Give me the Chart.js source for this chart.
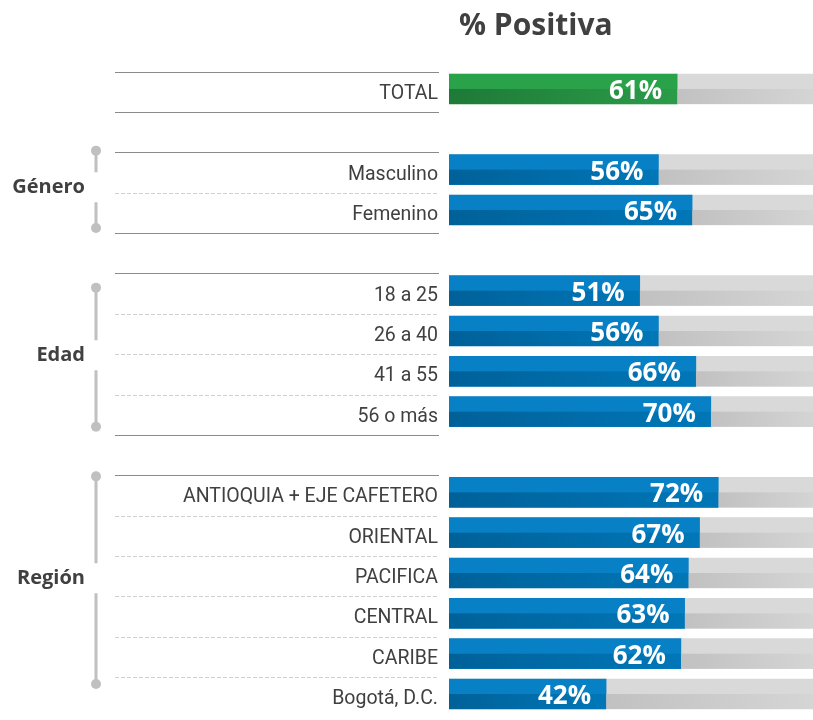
<!DOCTYPE html>
<html>
<head>
<meta charset="utf-8">
<script src="https://cdn.jsdelivr.net/npm/chart.js@4"></script>
<style>
  html, body { margin: 0; padding: 0; background: #fff; overflow: hidden; }
  #wrap { width: 813px; height: 720px; overflow: hidden; }
</style>
</head>
<body>
<div id="wrap"><canvas id="chart" width="824" height="740"></canvas></div>
<script>
// % Positiva por segmento : barres horizontales sur fond gris (piste 100 %)

const TITLE = "% Positiva";

const totalLabels = ["TOTAL"];
const totalValues = [61];

const generoLabels = ["Masculino", "Femenino"];
const generoValues = [56, 65];

const edadLabels = ["18 a 25", "26 a 40", "41 a 55", "56 o más"];
const edadValues = [51, 56, 66, 70];

const regionLabels = ["ANTIOQUIA + EJE CAFETERO", "ORIENTAL", "PACIFICA", "CENTRAL", "CARIBE", "Bogotá, D.C."];
const regionValues = [72, 67, 64, 63, 62, 42];

const groupNames = ["", "Género", "Edad", "Región"];
const FULL = 100;

// couleurs
const GREEN = { top: "#2aa24a", dark: "#1e7a37", light: "#2a9c49" };
const BLUE = { top: "#0880c5", dark: "#006199", light: "#0077b8" };
const GRAY = { top: "#d9d9d9", dark: "#c1c1c1", light: "#d6d6d6" };
const TEXT = "#404040";

// décalages (px) des accolades par rapport au premier / dernier rang du groupe
const BRACKETS = { "Género": [-19, 18], "Edad": [-3, 15], "Región": [-16, -10] };

// construction des rangs, avec un rang vide entre les groupes
const blocks = [
  [totalLabels, totalValues],
  [generoLabels, generoValues],
  [edadLabels, edadValues],
  [regionLabels, regionValues],
];
const labels = [];
const values = [];
const track = [];
const groups = [];
blocks.forEach(([labs, vals], g) => {
  if (g > 0) {
    labels.push("");
    values.push(null);
    track.push(null);
  }
  groups.push({ name: groupNames[g], first: labels.length, last: labels.length + labs.length - 1 });
  labs.forEach((l, i) => {
    labels.push(l);
    values.push(vals[i]);
    track.push(FULL);
  });
});
const palette = values.map((v, i) => (i === 0 ? GREEN : BLUE));

function bottomHalf(ctx, x0, x1, y, h, c) {
  if (x1 <= x0) return;
  const grad = ctx.createLinearGradient(x0, 0, x1, 0);
  grad.addColorStop(0, c.dark);
  grad.addColorStop(1, c.light);
  ctx.fillStyle = grad;
  ctx.fillRect(x0, y, x1 - x0, h / 2);
}

const decor = {
  id: "decor",
  afterDatasetsDraw(chart) {
    const ctx = chart.ctx;
    const bars = chart.getDatasetMeta(0).data;
    const tracks = chart.getDatasetMeta(1).data;
    ctx.save();
    values.forEach((v, i) => {
      if (v == null) return;
      const b = bars[i].getProps(["x", "y", "base", "height"], true);
      const t = tracks[i].getProps(["x", "y", "base", "height"], true);
      bottomHalf(ctx, b.x, t.x, t.y, t.height, GRAY);
      bottomHalf(ctx, b.base, b.x, b.y, b.height, palette[i]);
      ctx.fillStyle = "#fff";
      ctx.font = "bold 26px 'Open Sans'";
      ctx.textAlign = "right";
      ctx.textBaseline = "alphabetic";
      ctx.fillText(v + "%", b.x - 15, b.y + 10);
    });
    ctx.restore();
  },
  afterDraw(chart) {
    const ctx = chart.ctx;
    const y = chart.scales.y;
    const pitch = y.getPixelForValue(1) - y.getPixelForValue(0);
    const x0 = 115, x1 = 439;
    ctx.save();

    // titre
    ctx.fillStyle = TEXT;
    ctx.font = "bold 30px 'Open Sans'";
    ctx.textAlign = "left";
    ctx.textBaseline = "alphabetic";
    ctx.fillText(TITLE, 459, 35);

    groups.forEach((g, gi) => {
      const top = y.getPixelForValue(g.first) - pitch / 2 + 3;
      // séparateurs
      ctx.lineWidth = 1;
      ctx.strokeStyle = "#8a8a8a";
      ctx.setLineDash([]);
      ctx.beginPath();
      ctx.moveTo(x0, Math.round(top) + 0.5);
      ctx.lineTo(x1, Math.round(top) + 0.5);
      if (gi < groups.length - 1) {
        const bot = y.getPixelForValue(g.last) + pitch / 2 + 3;
        ctx.moveTo(x0, Math.round(bot) + 0.5);
        ctx.lineTo(x1, Math.round(bot) + 0.5);
      }
      ctx.stroke();
      ctx.strokeStyle = "#cfcfcf";
      ctx.setLineDash([4, 2]);
      ctx.beginPath();
      for (let i = g.first; i < g.last; i++) {
        const yy = Math.round(y.getPixelForValue(i) + pitch / 2 + 3) + 0.5;
        ctx.moveTo(x0, yy);
        ctx.lineTo(x1, yy);
      }
      ctx.stroke();
      ctx.setLineDash([]);

      // accolade + nom du groupe
      if (!g.name) return;
      const off = BRACKETS[g.name];
      const ya = y.getPixelForValue(g.first) + off[0];
      const yb = y.getPixelForValue(g.last) + off[1];
      const mid = (ya + yb) / 2 - 2;
      const bx = 96;
      ctx.strokeStyle = "#c0c0c0";
      ctx.fillStyle = "#c0c0c0";
      ctx.lineWidth = 3;
      ctx.beginPath();
      ctx.moveTo(bx, ya);
      ctx.lineTo(bx, mid - 15);
      ctx.moveTo(bx, mid + 15);
      ctx.lineTo(bx, yb);
      ctx.stroke();
      [ya, yb].forEach((cy) => {
        ctx.beginPath();
        ctx.arc(bx, cy, 5, 0, Math.PI * 2);
        ctx.fill();
      });
      ctx.fillStyle = TEXT;
      ctx.font = "bold 20px 'Open Sans'";
      ctx.textAlign = "right";
      ctx.textBaseline = "middle";
      ctx.fillText(g.name, 85, mid);
    });
    ctx.restore();
  },
};

new Chart(document.getElementById("chart"), {
  type: "bar",
  data: {
    labels,
    datasets: [
      {
        data: values,
        backgroundColor: palette.map((c) => c.top),
        borderWidth: 0,
        grouped: false,
        barThickness: 30,
        order: 0,
      },
      {
        data: track,
        backgroundColor: GRAY.top,
        borderWidth: 0,
        grouped: false,
        barThickness: 30,
        order: 1,
      },
    ],
  },
  options: {
    indexAxis: "y",
    responsive: false,
    animation: false,
    layout: { padding: { top: 68.8, bottom: 25.8, left: 0, right: 1 } },
    plugins: { legend: { display: false }, tooltip: { enabled: false }, title: { display: false } },
    scales: {
      x: { display: false, min: 0, max: 100 },
      y: {
        grid: { display: false, drawTicks: false },
        border: { display: false },
        ticks: {
          autoSkip: false,
          padding: 11,
          labelOffset: 5,
          color: TEXT,
          font: { family: "Roboto", size: 19.5 },
        },
        afterFit: (s) => {
          s.width = 449;
        },
      },
    },
  },
  plugins: [decor],
});
</script>
</body>
</html>
